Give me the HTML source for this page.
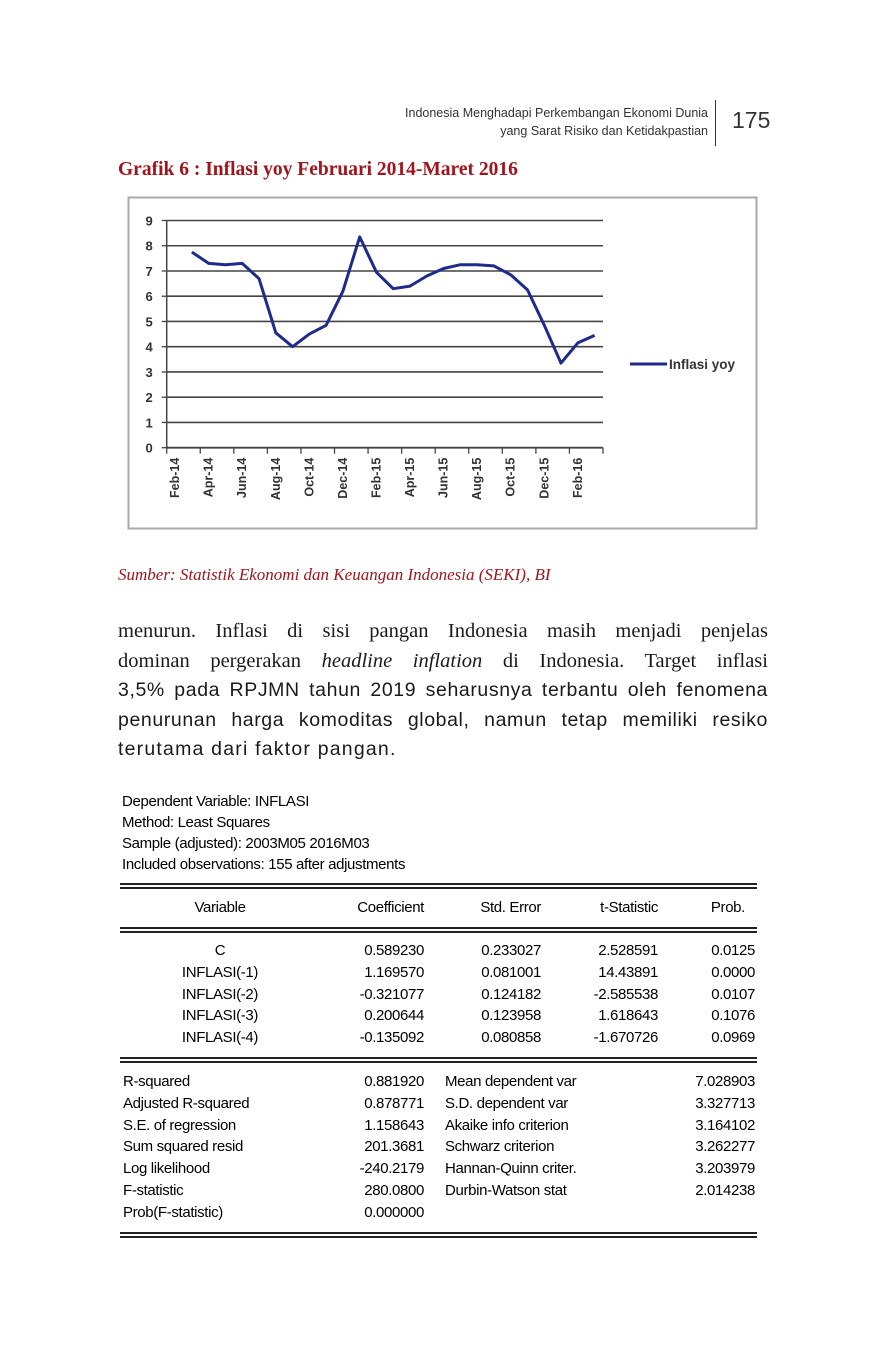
<!DOCTYPE html>
<html><head><meta charset="utf-8">
<style>
body{margin:0;background:#fff;}
#page{position:relative;width:886px;height:1359px;overflow:hidden;background:#fff;font-family:"Liberation Sans",sans-serif;color:#111;}
.a{position:absolute;white-space:nowrap;}
.t{font-size:15px;line-height:18px;letter-spacing:-0.35px;color:#000;}
.r{text-align:right;}
.para{position:absolute;left:118px;width:650px;font-size:19px;line-height:24px;text-align:justify;text-align-last:justify;color:#1a1a1a;}
.sans{font-size:19.5px;letter-spacing:0.6px;}
.dl{position:absolute;left:120px;width:637px;height:1.5px;background:#222;}
</style></head><body>
<div id="page">
<div class="a r" style="right:178px;top:104px;font-size:12.5px;line-height:18px;color:#333;">Indonesia Menghadapi Perkembangan Ekonomi Dunia<br>yang Sarat Risiko dan Ketidakpastian</div>
<div class="a" style="left:715px;top:100px;width:1px;height:46px;background:#333;"></div>
<div class="a" style="left:732px;top:107px;font-size:23px;color:#333;">175</div>
<div class="a" style="left:118px;top:159px;font-family:'Liberation Serif',serif;font-weight:bold;font-size:19.5px;color:#a0151c;">Grafik 6 : Inflasi yoy Februari 2014-Maret 2016</div>

<svg class="a" style="left:0;top:0" width="886" height="560" id="chart"></svg>

<div class="a" style="left:118px;top:565px;font-family:'Liberation Serif',serif;font-style:italic;font-size:17px;color:#a0151c;">Sumber: Statistik Ekonomi dan Keuangan Indonesia (SEKI), BI</div>

<div class="para" style="top:619px;font-family:'Liberation Serif',serif;font-size:20.5px;">menurun. Inflasi di sisi pangan Indonesia masih menjadi penjelas</div>
<div class="para" style="top:649px;font-family:'Liberation Serif',serif;font-size:20.5px;">dominan pergerakan <i>headline inflation</i> di Indonesia. Target inflasi</div>
<div class="para sans" style="top:678px;">3,5% pada RPJMN tahun 2019 seharusnya terbantu oleh fenomena</div>
<div class="para sans" style="top:708px;">penurunan harga komoditas global, namun tetap memiliki resiko</div>
<div class="para sans" style="top:737px;text-align-last:left;letter-spacing:1.2px;">terutama dari faktor pangan.</div>

<div class="a t" style="left:122px;top:791px;line-height:21px;">Dependent Variable: INFLASI<br>Method: Least Squares<br>Sample (adjusted): 2003M05 2016M03<br>Included observations: 155 after adjustments</div>

<div class="dl" style="top:883px;"></div>
<div class="dl" style="top:887px;"></div>
<div class="dl" style="top:927px;"></div>
<div class="dl" style="top:931px;"></div>
<div class="dl" style="top:1057px;"></div>
<div class="dl" style="top:1061px;"></div>
<div class="dl" style="top:1232px;"></div>
<div class="dl" style="top:1236px;"></div>
<div id="tbl"></div>
</div>
<script>
// ---- chart data ----
const categories=["Feb-14","Mar-14","Apr-14","May-14","Jun-14","Jul-14","Aug-14","Sep-14","Oct-14","Nov-14","Dec-14","Jan-15","Feb-15","Mar-15","Apr-15","May-15","Jun-15","Jul-15","Aug-15","Sep-15","Oct-15","Nov-15","Dec-15","Jan-16","Feb-16","Mar-16"];
const inflasiYoy=[null,7.75,7.3,7.25,7.3,6.7,4.55,4.0,4.5,4.85,6.2,8.35,6.95,6.3,6.4,6.8,7.1,7.25,7.25,7.2,6.85,6.25,4.85,3.35,4.15,4.45];
const yTicks=[0,1,2,3,4,5,6,7,8,9];
const seriesName="Inflasi yoy";

const NS="http://www.w3.org/2000/svg";
const svg=document.getElementById('chart');
const X0=166.7,X1=603,Y0=447.7,Y9=220.5;
const cw=(X1-X0)/categories.length;
function xScale(i){return X0+cw*(i+0.5);}
function yScale(v){return Y0-(v-0)*(Y0-Y9)/9;}
function mk(tag,attrs){const e=document.createElementNS(NS,tag);for(const k in attrs)e.setAttribute(k,attrs[k]);svg.appendChild(e);return e;}

let e=mk('rect',{x:128.5,y:197.5,width:628,height:331,fill:'#fff',stroke:'#aaa','stroke-width':2});



yTicks.forEach(v=>{
  const y=yScale(v);
  if(v>0){const g=mk('line',{x1:X0,x2:X1,y1:y,y2:y,stroke:'#444','stroke-width':1.6});
  
  }
  const tk=mk('line',{x1:X0-5,x2:X0,y1:y,y2:y,stroke:'#444','stroke-width':1.3});
  
  
  const t=mk('text',{x:X0-14,y:y+5,'text-anchor':'end','font-size':13,'font-weight':'bold','font-family':'Liberation Sans, sans-serif',fill:'#333'});
  t.textContent=v;
  
  
});
e=mk('line',{x1:X0,x2:X0,y1:Y9,y2:Y0,stroke:'#444','stroke-width':1.5});


e=mk('line',{x1:X0,x2:X1,y1:Y0,y2:Y0,stroke:'#444','stroke-width':1.8});


categories.forEach((c,i)=>{
  if(i%2===0){
    const tx=X0+cw*i;
    const tk=mk('line',{x1:tx,x2:tx,y1:Y0,y2:Y0+6,stroke:'#444','stroke-width':1.3});
    
    
    const x=xScale(i)+4,y=Y0+10;
    const t=mk('text',{x:x,y:y,transform:`rotate(-90 ${x} ${y})`,'text-anchor':'end','font-size':12.5,'font-weight':'bold','font-family':'Liberation Sans, sans-serif',fill:'#333'});
    t.textContent=c;
    
    
  }
});
const tk2=mk('line',{x1:X1,x2:X1,y1:Y0,y2:Y0+6,stroke:'#444','stroke-width':1.3});


let d='';
inflasiYoy.forEach((v,i)=>{if(v==null)return;d+=(d?'L':'M')+xScale(i).toFixed(1)+','+yScale(v).toFixed(1);});
e=mk('path',{d:d,fill:'none',stroke:'#1f2a8c','stroke-width':3,'stroke-linejoin':'round'});


e=mk('line',{x1:630,x2:667,y1:364,y2:364,stroke:'#1f2a8c','stroke-width':3});


e=mk('text',{x:669,y:369,'font-size':13.5,'font-weight':'bold','font-family':'Liberation Sans, sans-serif',fill:'#333'});
e.textContent=seriesName;



// ---- table ----
const tbl=document.getElementById('tbl');
function put(txt,x,y,align,name){
  const s=document.createElement('div');
  s.className='a t';
  s.textContent=txt;
  s.style.top=(y-9)+'px';
  if(align==='r'){s.style.right=(886-x)+'px';}
  else if(align==='c'){s.style.left=(x-80)+'px';s.style.width='160px';s.style.textAlign='center';}
  else s.style.left=x+'px';
  
  
  tbl.appendChild(s);
}
put('Variable',220,908,'c','col-header-variable');
put('Coefficient',424,908,'r','col-header-coefficient');
put('Std. Error',541,908,'r','col-header-std-error');
put('t-Statistic',658,908,'r','col-header-t-statistic');
put('Prob.',745,908,'r','col-header-prob');
const rows=[["C","0.589230","0.233027","2.528591","0.0125"],["INFLASI(-1)","1.169570","0.081001","14.43891","0.0000"],["INFLASI(-2)","-0.321077","0.124182","-2.585538","0.0107"],["INFLASI(-3)","0.200644","0.123958","1.618643","0.1076"],["INFLASI(-4)","-0.135092","0.080858","-1.670726","0.0969"]];
rows.forEach((r,i)=>{const y=951+i*21.8;
  put(r[0],220,y,'c','variable-name');put(r[1],424,y,'r','coefficient-value');put(r[2],541,y,'r','std-error-value');put(r[3],658,y,'r','t-stat-value');put(r[4],755,y,'r','prob-value');});
const stats=[["R-squared","0.881920","Mean dependent var","7.028903"],["Adjusted R-squared","0.878771","S.D. dependent var","3.327713"],["S.E. of regression","1.158643","Akaike info criterion","3.164102"],["Sum squared resid","201.3681","Schwarz criterion","3.262277"],["Log likelihood","-240.2179","Hannan-Quinn criter.","3.203979"],["F-statistic","280.0800","Durbin-Watson stat","2.014238"],["Prob(F-statistic)","0.000000","",""]];
stats.forEach((r,i)=>{const y=1082+i*21.8;
  put(r[0],123,y,'l','stat-label');put(r[1],424,y,'r','stat-value');
  if(r[2]){put(r[2],445,y,'l','stat-label');put(r[3],755,y,'r','stat-value');}});
</script>
</body></html>
